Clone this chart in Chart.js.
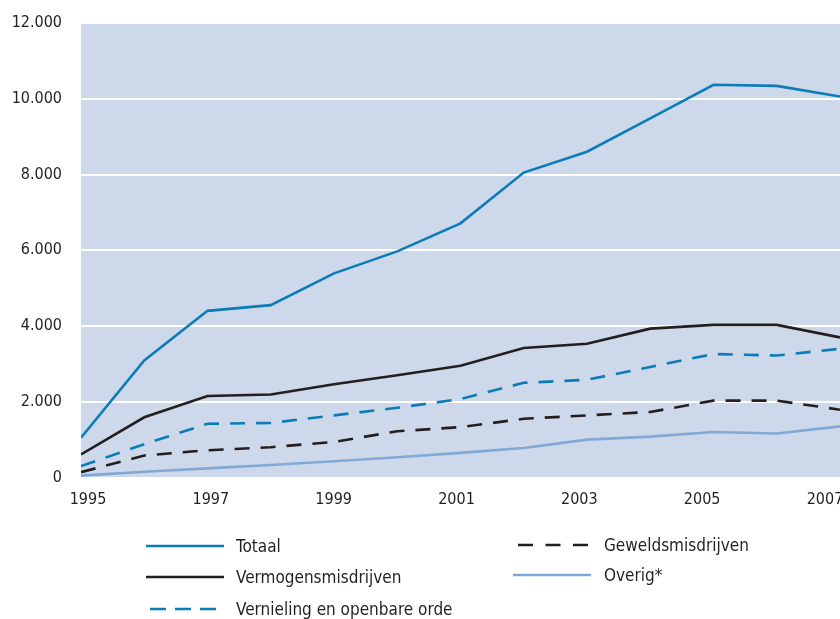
<!DOCTYPE html>
<html>
<head>
<meta charset="utf-8">
<script src="https://cdn.jsdelivr.net/npm/chart.js@4.4.1/dist/chart.umd.min.js"></script>
<style>
  html, body { margin: 0; padding: 0; background: #ffffff; }
  #wrap { position: relative; width: 840px; height: 619px; overflow: hidden; }
  #c { position: absolute; left: 0; top: 0; }
  .lg { position: absolute; height: 20px; line-height: 20px; font-family: 'DejaVu Sans Condensed', 'Liberation Sans Narrow', sans-serif; font-size: 17px; color: #231f20; white-space: nowrap; }
  #lgsvg { position: absolute; left: 0; top: 0; }
</style>
</head>
<body>
<div id="wrap">
  <canvas id="c" width="860" height="619"></canvas>
  <svg id="lgsvg" width="840" height="619"></svg>
  <div id="legend"></div>
</div>
<script>
// ---- data ----
const years = [1995, 1996, 1997, 1998, 1999, 2000, 2001, 2002, 2003, 2004, 2005, 2006, 2007];
const tickYears = [1995, 1997, 1999, 2001, 2003, 2005, 2007];
const yTicks = [0, 2000, 4000, 6000, 8000, 10000, 12000];

const totaal      = [1050, 3090, 4400, 4550, 5390, 5970, 6710, 8050, 8600, 9480, 10370, 10340, 10060];
const vermogens   = [610, 1590, 2150, 2190, 2460, 2700, 2950, 3420, 3530, 3930, 4030, 4030, 3700];
const vernieling  = [300, 880, 1420, 1440, 1640, 1840, 2070, 2500, 2580, 2920, 3260, 3220, 3400];
const geweld      = [140, 580, 720, 800, 940, 1220, 1330, 1550, 1640, 1730, 2030, 2030, 1790];
const overig      = [50, 150, 240, 330, 430, 535, 650, 780, 1000, 1080, 1200, 1160, 1350];

const seriesNames = ['Totaal', 'Vermogensmisdrijven', 'Vernieling en openbare orde', 'Geweldsmisdrijven', 'Overig*'];

// ---- styling ----
const BLUE = '#0b7cb8';
const BLACK = '#231f20';
const LIGHT = '#82a9d6';
const PLOT_BG = '#cdd9ea';
const FONT = "'DejaVu Sans Condensed', 'Liberation Sans Narrow', sans-serif";

function pts(arr) { return years.map((y, i) => ({ x: y, y: arr[i] })); }
function fmt(v) { return String(v).replace(/\B(?=(\d{3})+(?!\d))/g, '.'); }

const seriesStyles = [
  { data: totaal, color: BLUE, dash: [] },
  { data: vermogens, color: BLACK, dash: [] },
  { data: vernieling, color: BLUE, dash: [15, 11] },
  { data: geweld, color: BLACK, dash: [15, 11] },
  { data: overig, color: LIGHT, dash: [] }
];

const datasets = seriesStyles.map((s, i) => ({
  label: seriesNames[i],
  data: pts(s.data),
  borderColor: s.color,
  backgroundColor: s.color,
  borderWidth: 2.6,
  borderDash: s.dash,
  pointRadius: 0,
  tension: 0,
  fill: false,
  xAxisID: 'x',
  yAxisID: 'y'
})).reverse();

const plotBg = {
  id: 'plotBg',
  beforeDraw(chart) {
    const a = chart.chartArea, ctx = chart.ctx;
    ctx.save();
    ctx.fillStyle = PLOT_BG;
    ctx.fillRect(a.left, a.top, a.right - a.left, a.bottom - a.top);
    ctx.restore();
  }
};

new Chart(document.getElementById('c'), {
  type: 'line',
  data: { datasets },
  options: {
    responsive: false,
    animation: false,
    events: [],
    layout: { padding: { left: 0, top: 23, right: 20, bottom: 101.5 } },
    plugins: { legend: { display: false }, tooltip: { enabled: false } },
    scales: {
      x: {
        type: 'linear', min: years[0], max: years[years.length - 1],
        display: false
      },
      xl: {
        type: 'linear', position: 'bottom',
        min: 1994.886, max: 2007.244,
        afterBuildTicks(scale) { scale.ticks = tickYears.map(v => ({ value: v })); },
        afterFit(scale) { scale.height = 40; },
        grid: { display: false, drawTicks: false },
        border: { display: false },
        ticks: {
          padding: 13, maxRotation: 0, autoSkip: false,
          color: BLACK, font: { family: FONT, size: 16 },
          callback: v => String(v)
        }
      },
      y: {
        type: 'linear', min: 0, max: 12000,
        afterBuildTicks(scale) { scale.ticks = yTicks.map(v => ({ value: v })); },
        afterFit(scale) { scale.width = 81; scale.paddingTop = 0; scale.paddingBottom = 0; },
        grid: { color: '#ffffff', lineWidth: 2, drawTicks: false },
        border: { display: false },
        ticks: {
          padding: 19, color: BLACK, font: { family: FONT, size: 16 },
          callback: v => fmt(v)
        }
      }
    }
  },
  plugins: [plotBg]
});

// ---- custom two-column legend ----
const legendItems = [
  { name: seriesNames[0], color: BLUE,  dash: '',      x1: 146, x2: 224, y: 546, tx: 236 },
  { name: seriesNames[1], color: BLACK, dash: '',      x1: 146, x2: 224, y: 577, tx: 236 },
  { name: seriesNames[2], color: BLUE,  dash: '16 9',  x1: 150, x2: 216, y: 609, tx: 236 },
  { name: seriesNames[3], color: BLACK, dash: '15 12.5', x1: 518, x2: 588, y: 545, tx: 604 },
  { name: seriesNames[4], color: LIGHT, dash: '',      x1: 513, x2: 591, y: 575, tx: 604 }
];
const svg = document.getElementById('lgsvg');
const leg = document.getElementById('legend');
legendItems.forEach(it => {
  const ln = document.createElementNS('http://www.w3.org/2000/svg', 'line');
  ln.setAttribute('x1', it.x1); ln.setAttribute('x2', it.x2);
  ln.setAttribute('y1', it.y); ln.setAttribute('y2', it.y);
  ln.setAttribute('stroke', it.color); ln.setAttribute('stroke-width', '2.6');
  if (it.dash) ln.setAttribute('stroke-dasharray', it.dash);
  svg.appendChild(ln);
  const d = document.createElement('div');
  d.className = 'lg';
  d.style.left = it.tx + 'px';
  d.style.top = (it.y - 10) + 'px';
  d.textContent = it.name;
  leg.appendChild(d);
});
</script>
</body>
</html>
